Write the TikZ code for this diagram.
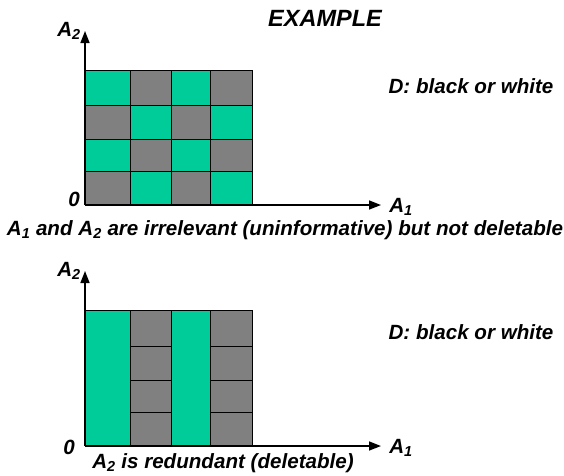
\documentclass[tikz,border=0pt]{standalone}
\usepackage{fontspec}
\setmainfont{Liberation Sans}
\usetikzlibrary{arrows.meta}
\definecolor{cellgreen}{HTML}{00CC99}
\definecolor{cellgray}{HTML}{808080}
\tikzset{
  lbl/.style={font=\fontsize{20.6}{24}\selectfont\bfseries\itshape, inner sep=0pt},
  axis/.style={line width=1.5pt, -{Triangle[length=12pt,width=9pt]}},
  cell/.style={draw=black, line width=1pt},
}
\begin{document}
\begin{tikzpicture}[x=1pt,y=-1pt]
  \useasboundingbox (0,0) rectangle (564,475);
  \node[lbl,font=\fontsize{23.5}{27}\selectfont\bfseries\itshape] (title) at (325,18) {EXAMPLE};

  % upper panel: checkerboard
  \foreach \i/\xa/\xb in {0/85/130,1/130/171,2/171/210,3/210/252}
    \foreach \j/\ya/\yb in {0/70/105,1/105/139,2/139/171,3/171/205} {
      \pgfmathtruncatemacro\k{mod(\i+\j,2)}
      \ifnum\k=0 \def\fc{cellgreen}\else\def\fc{cellgray}\fi
      \draw[cell,fill=\fc] (\xa,\ya) rectangle (\xb,\yb);
    }
  \coordinate (o1) at (85,205);
  \coordinate (y1) at (85,31);
  \coordinate (x1) at (381,205);
  \draw[axis] (o1) -- (y1);
  \draw[axis] (o1) -- (x1);
  \node[lbl] (a2u) at (69,31) {A\textsubscript{2}};
  \node[lbl] (zu) at (74,199) {0};
  \node[lbl] (a1u) at (401,207) {A\textsubscript{1}};
  \node[lbl] (du) at (471,86) {D: black or white};
  \node[lbl] (capu) at (285,230) {A\textsubscript{1} and A\textsubscript{2} are irrelevant (uninformative) but not deletable};

  % lower panel: stripes
  \foreach \xa/\xb in {85/130,171/210}
    \draw[cell,fill=cellgreen] (\xa,310) rectangle (\xb,446);
  \foreach \xa/\xb in {130/171,210/252}
    \foreach \ya/\yb in {310/346,346/380,380/412,412/446}
      \draw[cell,fill=cellgray] (\xa,\ya) rectangle (\xb,\yb);
  \coordinate (o2) at (85,446);
  \coordinate (y2) at (85,271);
  \coordinate (x2) at (381,446);
  \draw[axis] (o2) -- (y2);
  \draw[axis] (o2) -- (x2);
  \node[lbl] (a2l) at (69,271) {A\textsubscript{2}};
  \node[lbl] (zl) at (69,447) {0};
  \node[lbl] (a1l) at (401,448) {A\textsubscript{1}};
  \node[lbl] (dl) at (471,332) {D: black or white};
  \node[lbl] (capl) at (223,463) {A\textsubscript{2} is redundant (deletable)};
\end{tikzpicture}
\end{document}
